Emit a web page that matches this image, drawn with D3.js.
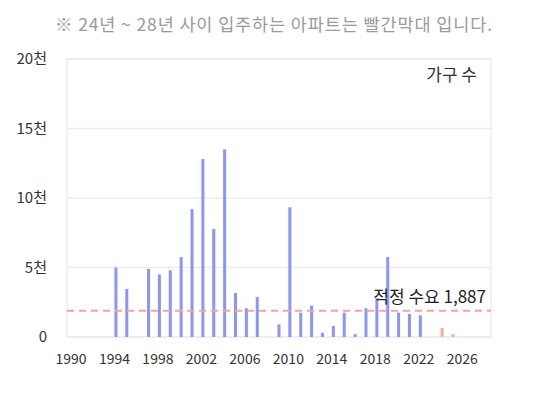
<!DOCTYPE html>
<html>
<head>
<meta charset="utf-8">
<script src="https://cdn.jsdelivr.net/npm/d3@7"></script>
<style>
  body { margin: 0; background: #fff; }
  text { font-family: "Noto Sans CJK KR", "Noto Sans", sans-serif; }
</style>
</head>
<body>
<div id="chart"></div>
<script>
// data
var years = [1994, 1995, 1997, 1998, 1999, 2000, 2001, 2002, 2003, 2004, 2005, 2006, 2007,
  2009, 2010, 2011, 2012, 2013, 2014, 2015, 2016, 2017, 2018, 2019, 2020, 2021, 2022];
var households = [5000, 3450, 4900, 4500, 4800, 5750, 9200, 12800, 7780, 13500, 3170, 2070, 2880,
  910, 9330, 1750, 2260, 300, 800, 1750, 200, 2070, 2790, 5750, 1750, 1660, 1560];
var futureYears = [2024, 2025];
var futureHouseholds = [650, 200];
var demand = 1887;
var xTicks = [1990, 1994, 1998, 2002, 2006, 2010, 2014, 2018, 2022, 2026];
var yTicks = [0, 5000, 10000, 15000, 20000];
var yTickLabels = ['0', '5천', '10천', '15천', '20천'];

var width = 540;
var height = 396;
var margin = { top: 59, right: 49, bottom: 59, left: 67 };

var svg = d3.select('#chart').append('svg')
  .attr('width', width).attr('height', height);

var x = d3.scaleLinear().domain([1989.5, 2028.5]).range([margin.left, width - margin.right]);
var y = d3.scaleLinear().domain([0, 20000]).range([height - margin.bottom, margin.top]);

// title note
svg.append('text')
  .attr('x', 55).attr('y', 31)
  .attr('font-size', '17.5px').attr('fill', '#9a9a9a')
  .attr('textLength', 437).attr('lengthAdjust', 'spacing')
  .text('※ 24년 ~ 28년 사이 입주하는 아파트는 빨간막대 입니다.');

// grid
svg.append('g').selectAll('line').data(yTicks).join('line')
  .attr('x1', margin.left).attr('x2', width - margin.right)
  .attr('y1', function (d) { return y(d); }).attr('y2', function (d) { return y(d); })
  .attr('stroke', '#ececec').attr('stroke-width', 1.3);

svg.append('rect')
  .attr('x', margin.left).attr('y', margin.top)
  .attr('width', width - margin.left - margin.right)
  .attr('height', height - margin.top - margin.bottom)
  .attr('fill', 'none').attr('stroke', '#ececec').attr('stroke-width', 1.3);

// y axis
var yAxis = svg.append('g')
  .attr('transform', 'translate(' + (margin.left - 20) + ',0)')
  .call(d3.axisLeft(y).tickValues(yTicks).tickSize(0).tickPadding(0)
    .tickFormat(function (d, i) { return yTickLabels[i]; }));
yAxis.select('.domain').remove();
yAxis.selectAll('text').attr('font-size', '15px').attr('fill', '#333')
  .attr('font-family', '"Noto Sans CJK KR", sans-serif');

// x axis
var xAxis = svg.append('g')
  .attr('transform', 'translate(-2,' + (height - margin.bottom) + ')')
  .call(d3.axisBottom(x).tickValues(xTicks).tickSize(0).tickPadding(17)
    .tickFormat(d3.format('d')));
xAxis.select('.domain').remove();
xAxis.selectAll('text').attr('font-size', '14px').attr('fill', '#333')
  .attr('font-family', '"Noto Sans CJK KR", sans-serif');

// bars
var barW = 3;
svg.append('g').selectAll('rect').data(years).join('rect')
  .attr('x', function (d) { return x(d) - barW / 2; })
  .attr('y', function (d, i) { return y(households[i]); })
  .attr('width', barW)
  .attr('height', function (d, i) { return y(0) - y(households[i]); })
  .attr('fill', '#8b95f7');

svg.append('g').selectAll('rect').data(futureYears).join('rect')
  .attr('x', function (d) { return x(d) - barW / 2; })
  .attr('y', function (d, i) { return y(futureHouseholds[i]); })
  .attr('width', barW)
  .attr('height', function (d, i) { return y(0) - y(futureHouseholds[i]); })
  .attr('fill', '#f7aaa2');

// demand line
svg.append('line')
  .attr('x1', margin.left).attr('x2', width - margin.right)
  .attr('y1', y(demand)).attr('y2', y(demand))
  .attr('stroke', '#ff9e9e').attr('stroke-width', 2)
  .attr('stroke-dasharray', '7,5');

svg.append('text')
  .attr('x', 486).attr('y', 303)
  .attr('text-anchor', 'end')
  .attr('font-size', '17px').attr('fill', '#222')
  .text('적정 수요 ' + d3.format(',')(demand));

svg.append('text')
  .attr('x', 477).attr('y', 81)
  .attr('text-anchor', 'end')
  .attr('font-size', '17px').attr('fill', '#333')
  .text('가구 수');
</script>
</body>
</html>
